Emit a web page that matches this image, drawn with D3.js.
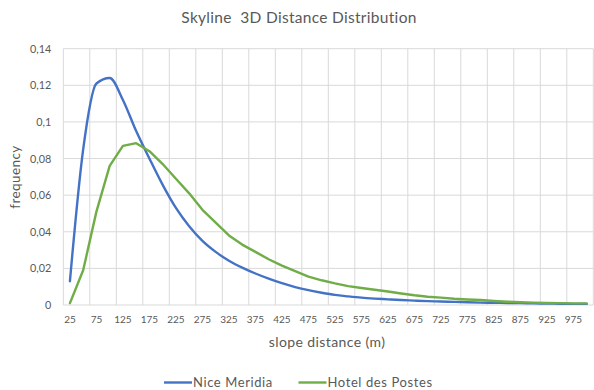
<!DOCTYPE html>
<html>
<head>
<meta charset="utf-8">
<script src="https://cdn.jsdelivr.net/npm/d3@7/dist/d3.min.js"></script>
<style>
  html, body { margin: 0; padding: 0; background: #ffffff; }
  svg { display: block; font-family: Lato, "Open Sans", sans-serif; }
</style>
</head>
<body>
<svg id="chart" width="594" height="390"></svg>
<script>
// Slope distance categories (m), 25 m steps
const distances = d3.range(25, 1001, 25);

// Frequency per distance bin
const niceMeridia = [
  0.013, 0.085, 0.121, 0.124, 0.112, 0.095, 0.080, 0.0656, 0.053, 0.043,
  0.035, 0.029, 0.0242, 0.0204, 0.0172, 0.0144, 0.0119, 0.0098, 0.0081, 0.0067,
  0.0055, 0.0047, 0.0040, 0.0035, 0.0031, 0.0027, 0.0024, 0.0021, 0.0019, 0.0017,
  0.0015, 0.0013, 0.0012, 0.0011, 0.0010, 0.0009, 0.0008, 0.0007, 0.0006, 0.0006
];
const hotelDesPostes = [
  0.001, 0.019, 0.051, 0.076, 0.0869, 0.0884, 0.0840, 0.0770, 0.069, 0.061,
  0.052, 0.045, 0.038, 0.033, 0.029, 0.025, 0.0215, 0.0185, 0.0155, 0.0135,
  0.0118, 0.0103, 0.0093, 0.0083, 0.0074, 0.0063, 0.0053, 0.0045, 0.0040, 0.0034,
  0.0030, 0.0027, 0.0022, 0.0018, 0.0015, 0.0013, 0.0011, 0.0010, 0.0009, 0.0009
];

const seriesNames = ["Nice Meridia", "Hotel des Postes"];
const seriesColors = ["#4472C4", "#70AD47"];

const yTicks = [0, 0.02, 0.04, 0.06, 0.08, 0.1, 0.12, 0.14];
const yTickLabels = ["0", "0,02", "0,04", "0,06", "0,08", "0,1", "0,12", "0,14"];
const xTickLabels = distances.filter((d, i) => i % 2 === 0);

const titleText = "Skyline  3D Distance Distribution";
const xTitle = "slope distance (m)";
const yTitle = "frequency";

const svg = d3.select("#chart");
const plot = { left: 63.3, right: 593.3, top: 48.7, bottom: 305 };

const x = d3.scaleBand().domain(distances).range([plot.left, plot.right]).padding(0);
const y = d3.scaleLinear().domain([0, 0.14]).range([plot.bottom, plot.top]);

const gridColor = "#d9d9d9";
const textColor = "#595959";

// Horizontal gridlines
svg.append("g")
  .selectAll("line")
  .data(yTicks)
  .join("line")
  .attr("x1", plot.left).attr("x2", plot.right)
  .attr("y1", d => y(d)).attr("y2", d => y(d))
  .attr("stroke", gridColor).attr("stroke-width", 1);

// Vertical gridlines at every second category boundary
const vGrid = distances.filter((d, i) => i % 2 === 0).map(d => x(d)).concat([plot.right]);
svg.append("g")
  .selectAll("line")
  .data(vGrid)
  .join("line")
  .attr("x1", d => d).attr("x2", d => d)
  .attr("y1", plot.top).attr("y2", plot.bottom)
  .attr("stroke", gridColor).attr("stroke-width", 1);

// Y axis labels
const yAxis = d3.axisLeft(y)
  .tickValues(yTicks)
  .tickFormat((d, i) => yTickLabels[i])
  .tickSize(0)
  .tickPadding(12);
const gy = svg.append("g").attr("transform", `translate(${plot.left},0)`).call(yAxis);
gy.select(".domain").remove();
gy.selectAll("text").attr("fill", textColor).style("font-size", "10.8px").style("font-family", "Lato, sans-serif");

// X axis labels
const xAxis = d3.axisBottom(x)
  .tickValues(xTickLabels)
  .tickSize(0)
  .tickPadding(11);
const gx = svg.append("g").attr("transform", `translate(0,${plot.bottom})`).call(xAxis);
gx.select(".domain").remove();
gx.selectAll("text").attr("fill", textColor).style("font-size", "10px").style("font-family", "Lato, sans-serif");

// Series lines
const lineCurves = [d3.curveMonotoneX, d3.curveLinear];
[niceMeridia, hotelDesPostes].forEach((vals, s) => {
  const line = d3.line()
    .x((d, i) => x(distances[i]) + x.bandwidth() / 2)
    .y(d => y(d))
    .curve(lineCurves[s]);
  svg.append("path")
    .datum(vals)
    .attr("d", line)
    .attr("fill", "none")
    .attr("stroke", seriesColors[s])
    .attr("stroke-width", 2.4)
    .attr("stroke-linejoin", "round")
    .attr("stroke-linecap", "round");
});

// Titles
svg.append("text")
  .attr("x", 299).attr("y", 23)
  .attr("text-anchor", "middle")
  .attr("fill", textColor)
  .style("font-size", "15.5px")
  .style("letter-spacing", "0.3px")
  .style("white-space", "pre")
  .attr("xml:space", "preserve")
  .text(titleText);

svg.append("text")
  .attr("x", 327).attr("y", 347)
  .attr("text-anchor", "middle")
  .attr("fill", textColor)
  .style("font-size", "14px")
  .style("letter-spacing", "0.4px")
  .text(xTitle);

svg.append("text")
  .attr("transform", "translate(20,177) rotate(-90)")
  .attr("text-anchor", "middle")
  .attr("fill", textColor)
  .style("font-size", "13.5px")
  .style("letter-spacing", "0.4px")
  .text(yTitle);

// Legend
const legendItems = [
  { x0: 164, name: seriesNames[0], color: seriesColors[0] },
  { x0: 298.5, name: seriesNames[1], color: seriesColors[1] }
];
const lg = svg.append("g");
legendItems.forEach(item => {
  lg.append("line")
    .attr("x1", item.x0).attr("x2", item.x0 + 28)
    .attr("y1", 382.5).attr("y2", 382.5)
    .attr("stroke", item.color).attr("stroke-width", 2.4);
  lg.append("text")
    .attr("x", item.x0 + 29).attr("y", 387)
    .attr("fill", textColor)
    .style("font-size", "13px")
    .style("letter-spacing", "0.6px")
    .text(item.name);
});
</script>
</body>
</html>
